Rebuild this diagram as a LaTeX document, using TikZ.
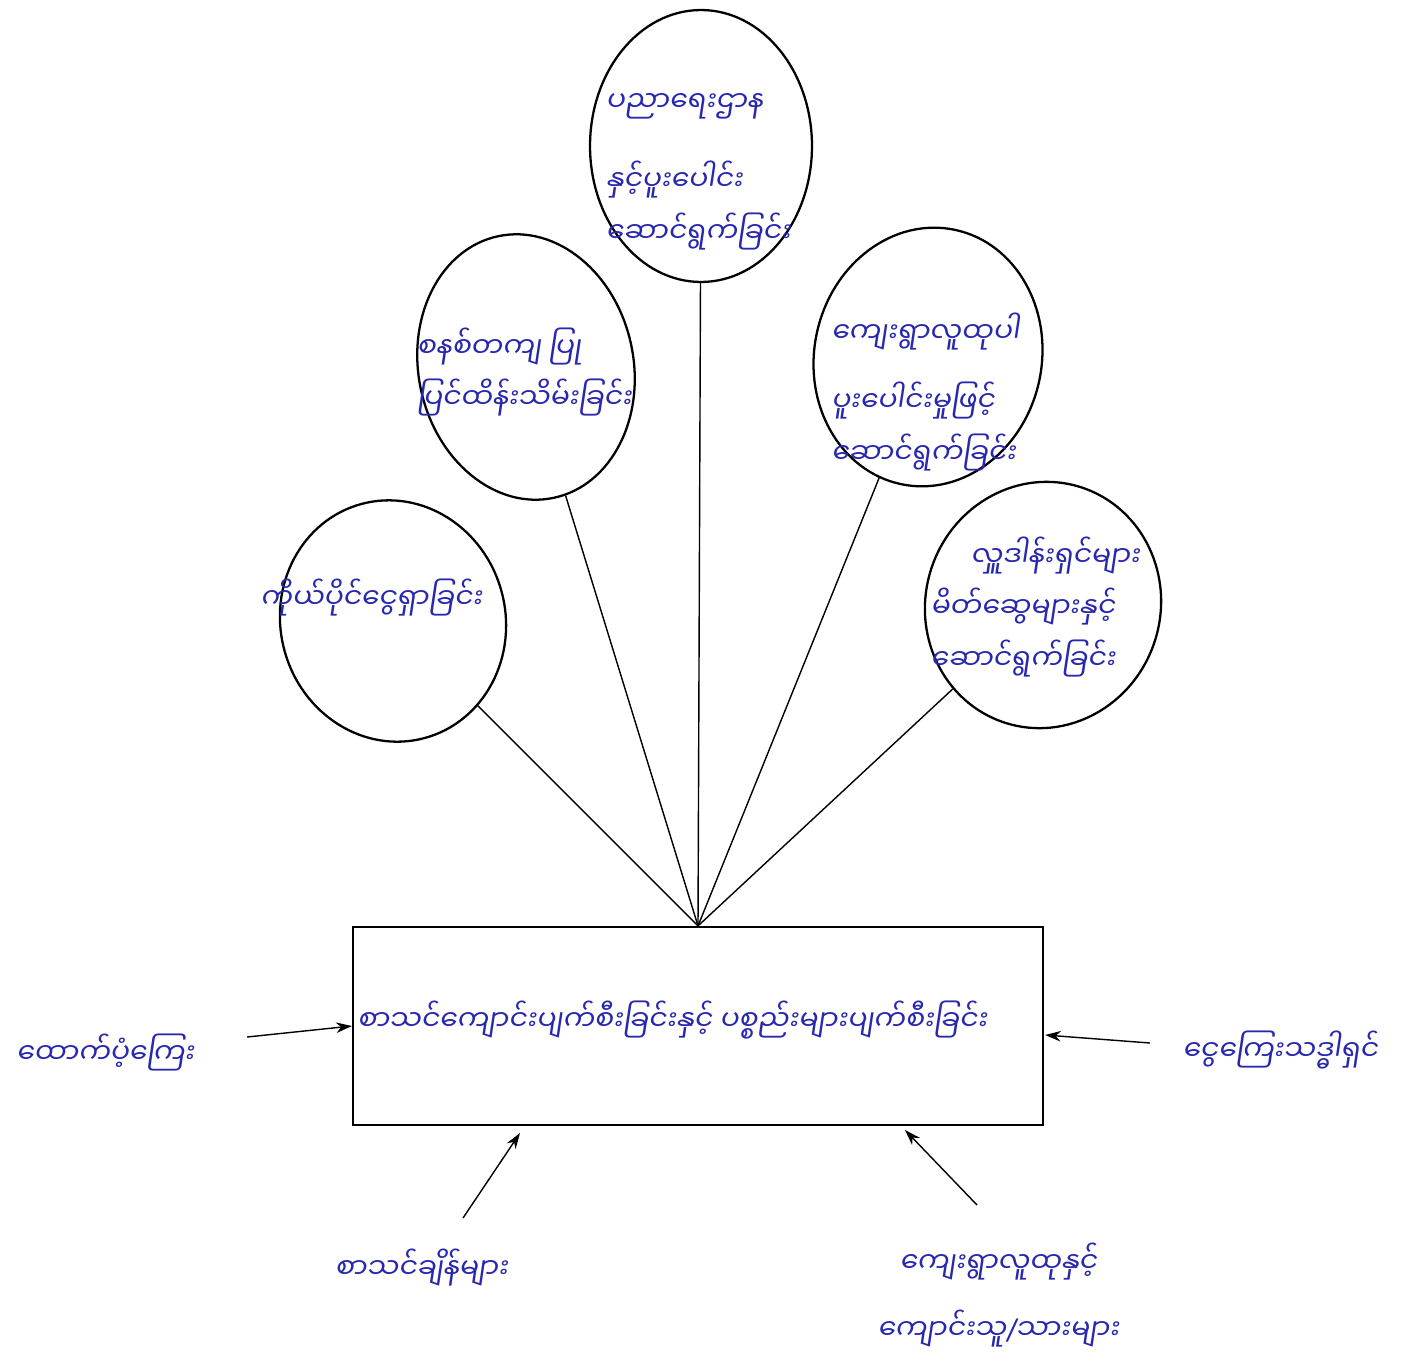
\documentclass[tikz,border=0pt]{standalone}
\usepackage{fontspec}
\newfontfamily\mm[Script=Myanmar,FakeSlant=0.15]{Noto Sans Myanmar UI}
\newfontfamily\dv[FakeSlant=0.15]{DejaVu Sans}
\usetikzlibrary{shapes.geometric,arrows.meta}
\definecolor{ink}{RGB}{40,40,175}
\begin{document}
\begin{tikzpicture}[x=0.02cm,y=-0.02cm,
  bub/.style={ellipse,draw,line width=1.3pt,inner sep=0pt},
  txt/.style={text=ink,font=\mm\fontsize{16}{28}\selectfont,inner sep=0pt},
  link/.style={line width=0.8pt},
  arr/.style={line width=0.8pt,-{Stealth[length=9pt,width=6pt]}}]
\useasboundingbox (0,0) rectangle (1415,1369);
\fill[white] (0,0) rectangle (1415,1369);

% bubbles
\node[bub,minimum width=4.44cm,minimum height=5.44cm] (e3) at (701,146) {};
\node[bub,minimum width=4.3cm,minimum height=5.35cm,rotate=12] (e2) at (526,367) {};
\node[bub,minimum width=4.55cm,minimum height=5.2cm,rotate=-12] (e4) at (928,357) {};
\node[bub,minimum width=4.5cm,minimum height=4.85cm,rotate=15] (e1) at (393,621) {};
\node[bub,minimum width=4.7cm,minimum height=4.95cm,rotate=-18] (e5) at (1043,605) {};

% bubble texts
\node[txt,align=left] (t3) at (698,172) {ပညာရေးဌာန\\[0.6cm]နှင့်ပူးပေါင်း\\[0.05cm]ဆောင်ရွက်ခြင်း};
\node[txt,align=left] (t2) at (524,372) {စနစ်တကျ ပြု\\[0.05cm]ပြင်ထိန်းသိမ်းခြင်း};
\node[txt,align=left] (t4) at (925,392) {ကျေးရွာလူထုပါ\\[0.4cm]ပူးပေါင်းမှုဖြင့်\\[0.05cm]ဆောင်ရွက်ခြင်း};
\node[txt,align=left] (t5) at (1035,607) {\hspace*{0.8cm}လှူဒါန်းရှင်များ\\[0.05cm]မိတ်ဆွေများနှင့်\\[0.05cm]ဆောင်ရွက်ခြင်း};
\node[txt] (t1) at (371,598) {ကိုယ်ပိုင်ငွေရှာခြင်း};

% central box
\node[draw,line width=1.3pt,minimum width=13.8cm,minimum height=3.96cm] (box) at (698,1026) {};
\node[txt] (t0) at (672,1020) {စာသင်ကျောင်းပျက်စီးခြင်းနှင့် ပစ္စည်းများပျက်စီးခြင်း};

% links
\foreach \e in {e1,e2,e3,e4,e5} \draw[link] (\e) -- (box.north);

% outside labels
\node[txt] (lL) at (105,1052) {ထောက်ပံ့ကြေး};
\node[txt] (lR) at (1280,1050) {ငွေကြေးသဒ္ဓါရှင်};
\node[txt] (lBL) at (421,1268) {စာသင်ချိန်များ};
\node[txt,align=center] (lBR) at (998,1295) {ကျေးရွာလူထုနှင့်\\[0.35cm]ကျောင်းသူ{\dv/}သားများ};

% arrows
\coordinate (aL) at (247,1037);
\coordinate (aR) at (1150,1043);
\coordinate (aRt) at (1045,1035);
\coordinate (aBL) at (463,1218);
\coordinate (aBLt) at (520,1133);
\coordinate (aBR) at (977,1205);
\coordinate (aBRt) at (905,1130);
\draw[arr] (aL) -- (box.west);
\draw[arr] (aR) -- (aRt);
\draw[arr] (aBL) -- (aBLt);
\draw[arr] (aBR) -- (aBRt);
\end{tikzpicture}
\end{document}
